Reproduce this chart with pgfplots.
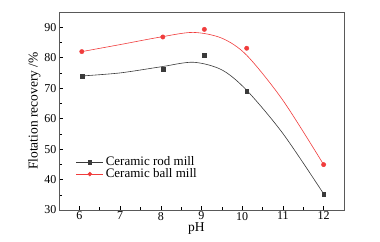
\documentclass[border=0pt]{standalone}
\usepackage{pgfplots}
\pgfplotsset{compat=1.18}
\usepackage{fontspec}
\setmainfont{Liberation Serif}
\definecolor{rodc}{HTML}{3A3A3A}
\definecolor{ballc}{HTML}{F03C3C}
\begin{document}
\begin{tikzpicture}
\begin{axis}[
  at={(59pt,31pt)}, anchor=south west,
  width=285pt, height=198pt, scale only axis,
  xmin=5.5, xmax=12.5, ymin=30, ymax=95,
  xtick={6,7,8,9,10,11,12}, ytick={30,40,50,60,70,80,90},
  minor x tick num=1, minor y tick num=1,
  tick align=inside, xtick pos=bottom, ytick pos=left,
  major tick length=4pt, minor tick length=2.5pt,
  tick style={black, line width=0.5pt},
  axis line style={line width=0.6pt, gray!70!black},
  /pgf/number format/assume math mode=true,
  ticklabel style={font=\fontsize{12}{14}\selectfont},
  xticklabel style={yshift=1.5pt},
  yticklabel style={xshift=1pt},
  xlabel={pH}, ylabel={Flotation recovery /\%},
  label style={font=\fontsize{13.5}{15}\selectfont},
  xlabel style={yshift=4pt, xshift=-5pt}, ylabel style={yshift=-3pt},
  legend style={draw=none, fill=none, at={(0.055,0.285)}, anchor=north west,
    font=\fontsize{13}{14}\selectfont, row sep=-2.5pt, inner sep=1pt},
  legend cell align=left,
  legend image code/.code={\draw[mark repeat=2, mark phase=2, #1] plot coordinates {(0cm,0cm) (0.48cm,0cm) (0.96cm,0cm)};},
]
\addlegendimage{rodc, line width=0.6pt, mark=square*, mark size=1.8pt}
\addlegendentry{Ceramic rod mill}
\addlegendimage{ballc, line width=0.6pt, mark=*, mark size=1.9pt}
\addlegendentry{Ceramic ball mill}
\addplot[rodc, line width=0.6pt, smooth, tension=0.5, forget plot] coordinates {
 (6.06,74.0) (7,75.0) (8,77.0) (8.8,78.5) (9.5,76.0) (10.11,69.3) (11,55.1) (12,35.3)};
\addplot[ballc, line width=0.6pt, smooth, tension=0.5, forget plot] coordinates {
 (6.06,82.0) (7,84.3) (8,86.8) (8.8,88.3) (9.5,86.4) (10.11,80.8) (11,66.0) (12,44.9)};
\addplot[only marks, rodc, mark=square*, mark size=1.9pt, forget plot] coordinates {
 (6.06,74.0) (8.05,76.1) (9.07,80.7) (10.11,69.0) (12,35.2)};
\addplot[only marks, ballc, mark=*, mark size=2.2pt, forget plot] coordinates {
 (6.06,82.0) (8.05,86.8) (9.07,89.3) (10.11,83.1) (12,44.9)};
\end{axis}
\pgfresetboundingbox
\path (0,0) rectangle (380pt,241pt);
\end{tikzpicture}
\end{document}
